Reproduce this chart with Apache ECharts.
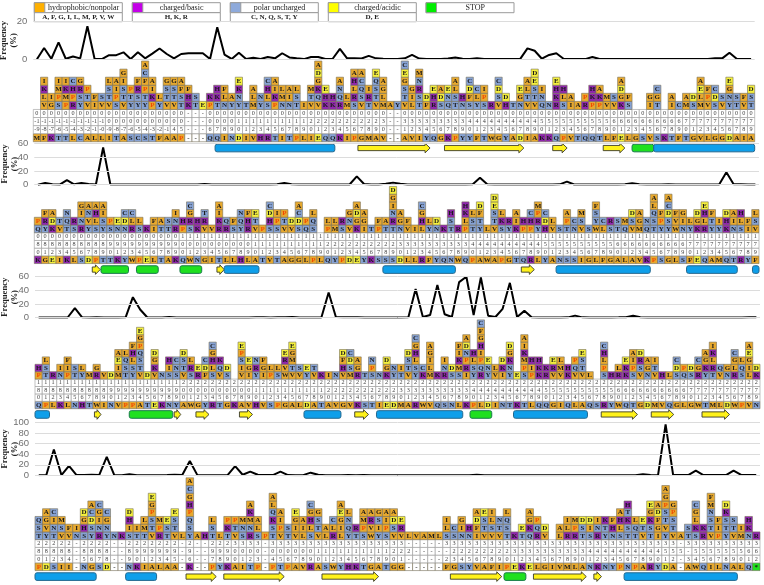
<!DOCTYPE html>
<html><head><meta charset="utf-8">
<style>html,body{margin:0;padding:0;background:#fff}#c{width:764px;height:585px}</style>
<script src="https://cdn.jsdelivr.net/npm/echarts@6/dist/echarts.min.js"></script>
</head><body><div id="c"></div>
<script>
const legendNames = ["hydrophobic/nonpolar","charged/basic","polar uncharged","charged/acidic","STOP"];
const legendResidues = ["A, F, G, I, L, M, P, V, W","H, K, R","C, N, Q, S, T, Y","D, E",""];

const p1Residues = "MFKTTLCALLITASCSTFAAP---QQINDIVHRTITPLIEQQKIPGMAV--AVIYQGKPYYFTWGYADIAKKQPVTQQTLFELGSVSKTFTGVLGGDAIA";
const p2Residues = "KGEIKLSDPTTKYWPELTAKQWNGITLLHLATVTAGGLPLQYPDEYKSSSDLLRFYQNWQPAWAPGTQRLYANSSIGLFGALAVKPSGLSFEQAMQTRYF";
const p3Residues = "QPLKLNHTWINVPPATEKNYAWGYRTGKAVHVSPGALDATAVGVKSTIEDMARWVQSNLKPLDINTKTLQQGIQLAQSRYWQTGDMVQGLGWTMLDWPVN";
const p4Residues = "PDSII-NGSD--NKIALAA-K--PYKAITP-PTPAVRASWYHKTGATGG-----FGSYVAFIPEKELGIVMLANKNYPNPARYDA-AWQILNALQ*";

const p1Hundreds = "000000000000000000000---0000000000000000000000000--0000000000000000000000000000000000000000000000000";
const p1Tens = "~1~1~1~1~1~1~1~1~1~100000000000---00001111111111222222222 23--333333333444444444455555555556666666666 7777777777".replace(/ /g,"");
const p1Ones = "~9~8~7~6~5~4~3~2~1~0~9~8~7~6~5~4~3~2~145---67890123456789012345678 90--1234567890123456789012345678901234567890123456789".replace(/ /g,"");
const p2Hundreds = "0000000000000000000011111111111111111111111111111111111111111111111111111111111111111111111111111111";
const p23Tens = "8888888888999999999900000000001111111111222222222233333333334444444444555555555566666666667777777777";
const p23Ones = "0123456789012345678901234567890123456789012345678901234567890123456789012345678901234567890123456789";
const p3Hundreds = "1111111111111111111122222222222222222222222222222222222222222222222222222222222222222222222222222222";
const p4Hundreds = "22222-2222--2222222-2--2223333-333333333333333333-----3333333333333333333333333333333-3333333333";
const p4Tens = "88888-8888--8999999-9--9990000-000000111111111122 2-----2222222233333333334444444444555-5555555666".replace(/ /g,"");
const p4Ones = "01234-5678--9012345-6--7890123-456789012345678901-----2345678901234567890123456789012-3456789012";

const p1Stacks = "_ VLKI GI SPMI PMKI RPHC YSRG VTP IF VS VTSL SPIA VTSIG YTP YSRF YTPFCA PKIA YL VTSG VTSG TSFA KHF TS E PK TKH NLF YA YNKE T MLA YN SLHC PKIA NML NIA TSL I VTM VQKGDA KHE KH RQNA ML SRLHA VSQCA TRI VTSQE MLGA A Y VTSGEC LIG TSRNM FD RHE SDA QNE TSLA NH SFDC YLC SPI R VSDC HD T NGE VTLA VTSED QNI N RKHE SLH IA A RP PKH PKA VM VS KGDA SF _ _ IG TGC _ IA C MA SD MLEA VPF SDC VS YNGE TS VF TSD".split(" ");
const p2Stacks = "QP YRF KDA VT TQN SR RNIG YVNA SLHA YSIA SP NE NDC RLC SL K IF TA TS RNI PH SRGC KH VRT V RKIA RQ SF YQN RHF VTE P SHDC SPI VTP VD SDCA QP SQL _ PL ML SR VNG KGDA IGA T PF TA TRNIGD NGA VF I LHGC YL ND K TSH R PLKH TSL YTFD L VTSED SKL YR KIA PH PHC YRPM HDC VL S TPA NC VSM S WYSF LC SR TS QM VSD MGA QN TSQLA YPF YSDCA WVF NIG YL KGD RLHE YTF YI KHD NIA SLH IF VSL".split(" ");
const p3Stacks = "PH TSL R NI PIF TS YL M RG V D MIEA TSQL YSLHF VTSQPGE D VKGD N SIH SNC VTSD SRL RE FDC SLHGC VQK SD _ VISPE IGE YRN IGF PL SL WVRE VTMGE VS YE VT K I N VHFD MSDC RGA T SPN N KGD YN TI VTSD YSLHGC KC MLIGA K RNI SD SMKIF IRPNDA YSLH RQPIHGFC YNE VL IKD YNKGD E SPMKIA PIH KKH RK VRE VML KH VQP VTSE L _ SPLHC H RL KKE SPIA VSRD NGA VTI H L SDC QP SD RGC YKGA TRLKI VQ NG RLGC SQL LIGEA KD".split(" ");
const p4Stacks = "TSQ YVGA TNIC VSM VF NI SHGD YSDCA RNIGC YNGC N K SIHD TI TML VTSPGE RPM TSE VTSE L YSQPHGCA A H TSL L TKP VTP SNM RNMKA SLA P TSKQLA VPIA TS VIGE LIA SLHGC VTSG LA RLC LIGEA YQNL TR SPMA WVRA YISG SPIA VSDA VRE L V A M L SLI SC NIG NH IFDA VTSE VSLI VTN TSQL K TE QKGA RQP VD _ LA RLI RPM TSD SID RNI YTK NHF SLHA TSKTH TQL VTE TSKGE IGFDA YVTSPGA VTSPG A TS SKLGC RK VTSNMF PIF YTSKD VTS MI NKH R".split(" ");

const p1Freq = [0,6,0.3,9,0.3,1.5,0.5,17.5,0.2,0.1,2.2,2.2,3.7,0.2,3.7,0.5,3,5.7,2.8,0.5,2.8,3.2,3.2,3.2,0.2,17,2.5,0.2,3.5,0.2,0.8,0.2,1.2,0.5,3.2,1,0.5,0.1,1.2,1.2,0.2,0.3,5.5,0.5,0.5,0.4,1.8,0.5,0.3,0.2,0.2,0.5,2.3,0.4,0.2,0.2,0.2,0.4,1,0.3,0.2,0.5,0.2,0.2,0.2,0.2,0.2,0.2,5.8,4.5,0.3,2.3,3.2,0.3,0.1,0.1,0.1,1.2,0.2,0.1,0.1,0.1,0.1,0.1,0.1,0.1,0.1,0.1,0.1,0.1,0.1,0.1,0.2,0.2,0.5,0.5,3.5,0.3,0.2,0.1];
const p2Freq = [0,2.5,0.5,0.2,6.5,0.5,2.5,1,0.3,54,0.2,0.2,0.3,0.3,0.2,0.2,0.3,0.3,0.4,0.2,0.2,0.2,0.2,1,0.3,0.2,0.2,0.2,0.2,0.2,0.2,0.2,0.2,0.5,2.5,0.5,0.3,0.3,0.4,0.2,0.3,0.2,0.3,0.3,12,1,0.3,0.3,1.5,3,1.5,0.3,0.2,0.2,0.2,0.2,0.3,0.3,0.2,0.2,0.7,10,0.5,0.3,0.2,0.2,0.3,0.2,0.2,0.2,0.2,0.2,0.5,4.5,0.3,0.2,0.2,0.3,0.2,0.2,0.2,0.5,2,0.5,0.2,0.2,0.2,0.7,0.3,0.2,0.3,0.2,0.2,0.2,0.3,18,0.6,0.5,0.3,0.3];
const p3Freq = [0.2,0.2,0.2,0.2,0.3,14,0.5,0.3,0.8,0.4,0.3,0.3,0.5,30,12,0.3,0.3,0.3,1,0.3,0.3,0.3,0.3,0.4,0.3,0.3,0.3,0.3,0.3,0.3,0.5,0.6,0.3,0.5,0.5,1,0.4,0.3,0.3,0.3,37,1,0.5,0.5,0.5,0.3,0.3,0.3,0.3,0.3,0.3,0.5,42,1,4,48,5,1,52,60,4,59,3,1,13,51,1,10,0.5,0.4,0.3,0.3,0.3,0.5,3,0.5,0.3,0.3,0.3,0.3,0.5,0.8,3,0.6,0.3,0.3,0.3,0.3,0.4,0.3,0.3,0.3,0.3,0.3,0.3,0.3,0.3,0.3,0.6,0.5];
const p4Freq = [0.2,0.5,49,0.5,18,0.5,0.5,1,0.5,35,0.5,0.3,2,0.3,0.2,0.3,0.3,0.5,1,0.5,27,0.3,0.3,0.3,0.3,0.3,17.5,1,7,1,0.5,0.5,7,0.5,0.3,0.3,5,1,0.3,0.3,0.3,0.4,0.3,0.4,0.3,0.3,0.2,0.2,0.2,0.2,0.2,0.2,0.2,0.2,0.2,0.2,0.2,0.2,1,0.3,0.3,0.2,0.2,0.2,0.2,0.2,0.2,0.2,0.2,0.2,0.2,0.2,0.2,0.2,0.2,0.2,0.2,0.2,0.2,0.2,2,0.5,0.3,97,0.5,0.5,0.5,9,0.5,0.5,0.5,0.5,9,1,0.5,0.5];

// secondary structure: [kind, first column edge, last column edge]; h helix, s sheet, t turn
const p1Structure = [["h",25.2,41.8],["s",45,55],["s",57,68],["s",72,74],["s",79,82],["t",83,86],["h",86,100]];
const p2Structure = [["s",8,9.1],["t",9.2,13],["t",14.1,17.1],["t",20.1,23.1],["s",25.2,26.2],["h",26.2,31],["h",48.1,58.1],["s",67.2,69],["h",72,85],["h",90,97],["h",99.1,100]];
const p3Structure = [["h",0,2],["s",8.2,9.1],["t",13,19],["s",19.2,20.1],["s",22.2,24],["s",28.2,30],["h",37.1,42.2],["s",44.1,46],["h",47.1,59],["t",60,63],["h",66,76.2],["s",78.1,83.1],["s",85,88.1],["s",92,95.8]];
const p4Structure = [["h",0,8.1],["h",12,16.1],["s",20,24],["s",25,33],["s",38,45.5],["s",55,61.8],["t",62.1,65],["s",66,73],["s",74,75],["h",78,93]];

const colors = {hydro:"#E8A92E",basic:"#9026AE",polar:"#86A2D4",acid:"#F5F03C",stop:"#1FE01F"};
const swatches = ["#FFB000","#C400E8","#8EAADB","#FFFF00","#00EE00"];
const kindOf = ch => "AFGILMPVW".includes(ch)?"hydro":"HKR".includes(ch)?"basic":"CNQSTY".includes(ch)?"polar":"DE".includes(ch)?"acid":ch==="*"?"stop":"none";

const panels = [
 {res:p1Residues,h:p1Hundreds,t:p1Tens,o:p1Ones,st:p1Stacks,f:p1Freq,ss:p1Structure,left:33.3,right:754.7,rh:8.07,cy:137.7,max:20,iv:20,top0:21.5,y0:59.3,rows:12},
 {res:p2Residues,h:p2Hundreds,t:p23Tens,o:p23Ones,st:p2Stacks,f:p2Freq,ss:p2Structure,left:34.3,right:759,rh:7.71,cy:259.7,max:60,iv:20,top0:143.3,y0:184.7,rows:12},
 {res:p3Residues,h:p3Hundreds,t:p23Tens,o:p23Ones,st:p3Stacks,f:p3Freq,ss:p3Structure,left:35,right:760,rh:7.4,cy:405,max:60,iv:20,top0:276.7,y0:317.7,rows:13},
 {res:p4Residues,h:p4Hundreds,t:p4Tens,o:p4Ones,st:p4Stacks,f:p4Freq,ss:p4Structure,left:35,right:760,rh:7.73,cy:566.7,max:100,iv:20,top0:422.7,y0:475.3,rows:13}
];
const tok = s => (s.match(/~?./g)||[]).map(x=>x.replace("~","-"));
const SERIF = '"Liberation Serif","DejaVu Serif",serif';

function cellRenderer(list){
  return function(params,api){
    const it = list[params.dataIndex];
    const p = api.coord([api.value(0),api.value(1)+1]);
    const s = api.size([1,1]);
    const num = it.type==="num";
    const kind = num?"none":kindOf(it.ch);
    const fill = num||kind==="none"?"#fff":colors[kind];
    const color = it.ch==="P"?"#F04A00":(num?"#444":"#1a1a1a");
    const w = s[0], h = s[1];
    return {type:"group",children:[
      {type:"rect",shape:{x:p[0],y:p[1],width:w,height:h},style:{fill:fill,stroke:num?"#999":"#77705a",lineWidth:0.6}},
      {type:"text",style:{x:p[0]+w/2,y:p[1]+h/2,text:it.ch,align:"center",verticalAlign:"middle",fill:color,
        font:(num?"normal 6.2px ":"bold 7px ")+SERIF}}
    ]};
  };
}
function structRenderer(list,rh){
  return function(params,api){
    const it = list[params.dataIndex];
    const a = api.coord([it[1],-0.78]), b = api.coord([it[2],-0.78]);
    const cy = a[1];
    if(it[0]==="s"){
      const x0=a[0], x1=b[0], hl=Math.min(5,(x1-x0)*0.6), t=2.6, o=4.8;
      return {type:"polygon",shape:{points:[[x0,cy-t],[x1-hl,cy-t],[x1-hl,cy-o],[x1,cy],[x1-hl,cy+o],[x1-hl,cy+t],[x0,cy+t]]},
        style:{fill:"#FFF21A",stroke:"#3a3a2a",lineWidth:0.9}};
    }
    return {type:"rect",shape:{x:a[0],y:cy-3.8,width:b[0]-a[0],height:7.6,r:2},
      style:{fill:it[0]==="h"?"#0E9FEA":"#1FE01F",stroke:it[0]==="h"?"#24688f":"#187a4a",lineWidth:1}};
  };
}

const grid=[],xAxis=[],yAxis=[],series=[];
panels.forEach((P,i)=>{
  const n=P.res.length, base=i*2;
  grid.push({left:P.left,width:P.right-P.left,top:P.top0,height:P.y0-P.top0,outerBoundsMode:"none"});
  grid.push({left:P.left,width:P.right-P.left,top:P.cy+P.rh/2+2*P.rh-(P.rows+2)*P.rh,height:(P.rows+2)*P.rh,outerBoundsMode:"none"});
  xAxis.push({gridIndex:base,type:"value",min:0,max:n,show:false});
  xAxis.push({gridIndex:base+1,type:"value",min:0,max:n,show:false});
  yAxis.push({gridIndex:base,type:"value",min:0,max:P.max,interval:P.iv,z:8,
    name:"Frequency\n(%)",nameLocation:"middle",nameRotate:90,nameGap:15,nameMoveOverlap:false,
    nameTextStyle:{fontFamily:SERIF,fontWeight:"bold",fontSize:8.6,color:"#222",lineHeight:10},
    axisLine:{show:false},axisTick:{show:false},
    axisLabel:{color:"#707070",fontSize:9.5,fontFamily:'"Liberation Sans",sans-serif',margin:6,showMaxLabel:true,showMinLabel:true,hideOverlap:false},
    splitLine:{show:true,showMaxLine:true,lineStyle:{color:"#dcdcdc",width:1}}});
  yAxis.push({gridIndex:base+1,type:"value",min:-2,max:P.rows,show:false});
  series.push({type:"line",xAxisIndex:base,yAxisIndex:base,data:P.f.map((v,c)=>[c+0.5,v]),
    showSymbol:false,lineStyle:{color:"#000",width:2},silent:true,animation:false,z:5});
  const cells=[];
  const ones=tok(P.o),tens=tok(P.t),hund=tok(P.h);
  for(let c=0;c<n;c++){
    cells.push({col:c,row:0,ch:P.res[c],type:"res"});
    cells.push({col:c,row:1,ch:ones[c]||"",type:"num"});
    cells.push({col:c,row:2,ch:tens[c]||"",type:"num"});
    cells.push({col:c,row:3,ch:hund[c]||"",type:"num"});
    const st=(P.st[c]||"_")==="_"?"":P.st[c];
    for(let k=0;k<st.length;k++) cells.push({col:c,row:4+k,ch:st[k],type:"res"});
  }
  series.push({type:"custom",xAxisIndex:base+1,yAxisIndex:base+1,clip:false,silent:true,animation:false,
    data:cells.map(d=>[d.col,d.row]),renderItem:cellRenderer(cells),z:3});
  series.push({type:"custom",xAxisIndex:base+1,yAxisIndex:base+1,clip:false,silent:true,animation:false,
    data:P.ss.map(d=>[d[1],-0.78,d[2]]),renderItem:structRenderer(P.ss,P.rh),z:4});
});

const lx=[34.3,132.3,230.3,328.3,426];
const graphic=[];
legendNames.forEach((name,i)=>{
  const x=lx[i],w=88,stop=i===4;
  graphic.push({type:"rect",x:x,y:2.7,shape:{width:w,height:10},style:{fill:"#fff",stroke:"#9a9a9a",lineWidth:1}});
  graphic.push({type:"rect",x:x,y:2.7,shape:{width:10.5,height:10},style:{fill:swatches[i],stroke:"#9a9a9a",lineWidth:1}});
  graphic.push({type:"text",x:x+10.5+(w-10.5)/2,y:3.6,style:{text:name,align:"center",fill:"#222",font:"8px "+SERIF}});
  if(!stop){
    graphic.push({type:"rect",x:x,y:12.7,shape:{width:w,height:9},style:{fill:"#fff",stroke:"#9a9a9a",lineWidth:1}});
    graphic.push({type:"text",x:x+w/2,y:13.8,style:{text:legendResidues[i],align:"center",fill:"#222",font:"bold 7.1px "+SERIF}});
  }
});

const chart=echarts.init(document.getElementById("c"),null,{renderer:"canvas"});
chart.setOption({animation:false,grid,xAxis,yAxis,series,graphic,tooltip:{show:false}});
</script></body></html>
